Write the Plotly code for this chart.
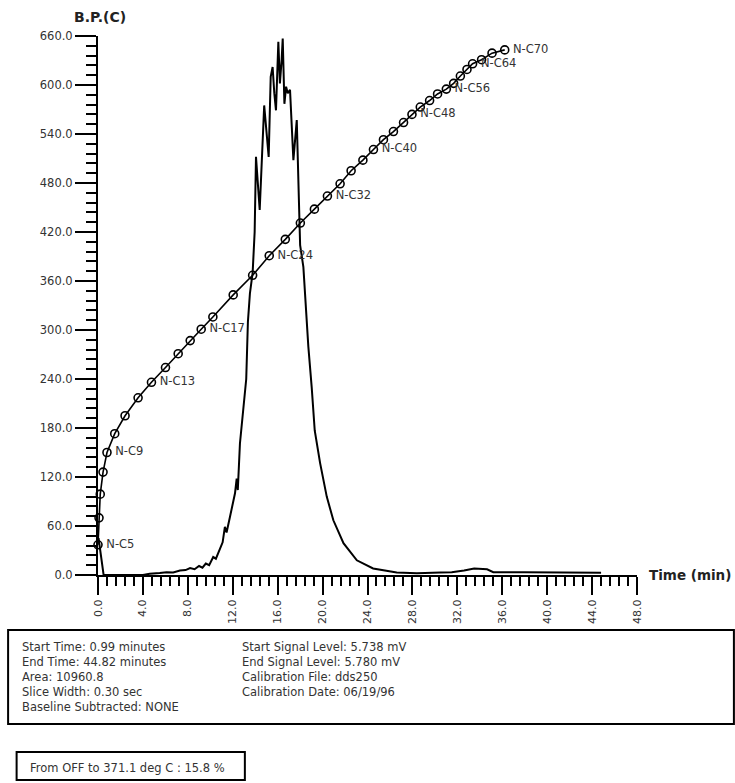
import plotly.graph_objects as go

# ---------------- data ----------------
# Calibration curve: n-alkane carbon number, retention time (min), boiling point (C)
carbon_numbers = [5, 6, 7, 8, 9, 10, 11, 12, 13, 14, 15, 16, 17, 18,
                  20, 22, 24, 26, 28, 30, 32, 34, 36, 38, 40, 42, 44, 46,
                  48, 50, 52, 54, 56, 58, 60, 62, 64, 66, 68, 70]
cal_time = [0.0, 0.09, 0.2, 0.45, 0.8, 1.49, 2.41, 3.57, 4.76, 6.01, 7.14, 8.21, 9.19, 10.23,
            12.04, 13.77, 15.25, 16.68, 18.02, 19.27, 20.43, 21.56, 22.54, 23.59, 24.53, 25.42,
            26.31, 27.21, 27.96, 28.70, 29.53, 30.24, 31.02, 31.67, 32.27, 32.86, 33.36, 34.16,
            35.09, 36.22]
cal_bp = [37, 70, 99, 126, 150, 173, 195, 217, 236, 254, 271, 287, 301, 316,
          343, 367, 391, 411, 431, 448, 464, 479, 495, 508, 521, 533, 543, 554,
          564, 573, 581, 589, 595, 602, 611, 619, 626, 631, 639, 643]
labelled_carbons = [5, 9, 13, 17, 24, 32, 40, 48, 56, 64, 70]

# Chromatogram signal (time in min, response drawn on the same vertical scale)
sig_time = [0.05, 0.5, 4.0, 4.6, 5.5, 6.1, 6.7, 7.3, 7.8, 8.2, 8.6, 9.0, 9.3, 9.6, 9.9,
            10.26, 10.5, 10.86, 11.1, 11.3, 11.45, 11.75, 12.0, 12.2, 12.35, 12.45, 12.64,
            12.8, 12.95, 13.09, 13.2, 13.35, 13.53, 13.77, 13.95, 14.07, 14.2, 14.4, 14.8,
            15.0, 15.2, 15.38, 15.55, 15.7, 15.85, 16.06, 16.2, 16.35, 16.45, 16.6, 16.75,
            16.9, 17.1, 17.4, 17.7, 17.93, 18.0, 18.29, 18.73, 19.03, 19.3, 19.78, 20.37,
            20.96, 21.86, 23.05, 24.5, 26.6, 28.4, 30.5, 31.5, 32.6, 33.5, 34.65, 35.2,
            38.0, 41.2, 44.8]
sig_value = [45, 0, 0, 1.5, 2.5, 3.5, 3, 5.5, 6, 8.5, 7, 11, 9, 14, 12,
             22, 20, 33, 40, 59, 52, 71, 85, 100, 118, 104, 161,
             186, 200, 222, 240, 310, 345, 370, 420, 512, 490, 447, 575,
             540, 512, 610, 622, 590, 569, 653, 602, 630, 657, 577, 598,
             590, 594, 508, 557, 439, 404, 377, 280, 230, 177, 137, 96,
             67, 39, 18, 8, 3, 2, 3, 3.5, 5.5, 8, 7, 3.5,
             3.5, 3.5, 2.8]

x_ticks = [0, 4, 8, 12, 16, 20, 24, 28, 32, 36, 40, 44, 48]
y_ticks = [0, 60, 120, 180, 240, 300, 360, 420, 480, 540, 600, 660]

info_left = ["Start Time: 0.99 minutes", "End Time: 44.82 minutes", "Area: 10960.8",
             "Slice Width: 0.30 sec", "Baseline Subtracted: NONE"]
info_right = ["Start Signal Level: 5.738 mV", "End Signal Level: 5.780 mV",
              "Calibration File: dds250", "Calibration Date: 06/19/96"]
summary_text = "From OFF to 371.1 deg C : 15.8 %"

# ---------------- figure ----------------
W, H = 735, 783
L, R, T, B = 98.3, 98.3, 36, 208
pw, ph = W - L - R, H - T - B

def px(x):
    return (x - L) / pw

def py(y):
    return (H - B - y) / ph

FONT = "DejaVu Sans"
TXT = "#333333"

fig = go.Figure()

fig.add_trace(go.Scatter(
    x=sig_time, y=sig_value, mode="lines",
    line=dict(color="black", width=2),
    hoverinfo="skip", showlegend=False))

cal_text = ["\u2009N-C%d" % c if c in labelled_carbons else "" for c in carbon_numbers]
fig.add_trace(go.Scatter(
    x=cal_time, y=cal_bp, mode="lines+markers+text",
    line=dict(color="black", width=1.6),
    marker=dict(symbol="circle-open", size=8, color="black", line=dict(width=1.6)),
    text=cal_text, textposition="middle right",
    textfont=dict(family=FONT, size=11.5, color=TXT),
    cliponaxis=False, showlegend=False))

fig.update_xaxes(
    range=[0, 48], tickvals=x_ticks, ticktext=["%.1f" % v for v in x_ticks],
    tickangle=-90, ticks="outside", ticklen=18, tickwidth=2, tickcolor="black",
    showline=True, linewidth=2, linecolor="black", showgrid=False, zeroline=False,
    tickfont=dict(family=FONT, size=11, color=TXT),
    minor=dict(dtick=0.8, tick0=0, ticks="outside", ticklen=9, tickwidth=2,
               tickcolor="black", showgrid=False))
fig.update_yaxes(
    range=[0, 660], tickvals=y_ticks, ticktext=["%.1f" % v for v in y_ticks],
    ticks="outside", ticklen=21, tickwidth=2, tickcolor="black",
    showline=True, linewidth=2, linecolor="black", showgrid=False, zeroline=False,
    tickfont=dict(family=FONT, size=11.5, color=TXT),
    minor=dict(dtick=12, tick0=0, ticks="outside", ticklen=10, tickwidth=2,
               tickcolor="black", showgrid=False))

ann = []
ann.append(dict(text="<b>B.P.(C)</b>", x=px(100), y=py(16.5), xref="paper", yref="paper",
                xanchor="center", yanchor="middle", showarrow=False,
                font=dict(family=FONT, size=14, color="#222")))
ann.append(dict(text="<b>Time (min)</b>", x=px(733), y=py(575), xref="paper", yref="paper",
                xanchor="right", yanchor="middle", showarrow=False,
                font=dict(family=FONT, size=13.5, color="#222")))
for i, t in enumerate(info_left):
    ann.append(dict(text=t, x=px(20.5), y=py(647 + 15 * i), xref="paper", yref="paper",
                    xanchor="left", yanchor="middle", showarrow=False,
                    font=dict(family=FONT, size=11.5, color=TXT)))
for i, t in enumerate(info_right):
    ann.append(dict(text=t, x=px(240), y=py(647 + 15 * i), xref="paper", yref="paper",
                    xanchor="left", yanchor="middle", showarrow=False,
                    font=dict(family=FONT, size=11.5, color=TXT)))
ann.append(dict(text=summary_text, x=px(28), y=py(768), xref="paper", yref="paper",
                xanchor="left", yanchor="middle", showarrow=False,
                font=dict(family=FONT, size=11.5, color=TXT)))

shapes = [
    dict(type="rect", xref="paper", yref="paper", x0=px(8.5), x1=px(733.5),
         y0=py(724), y1=py(630), line=dict(color="black", width=2), fillcolor="rgba(0,0,0,0)"),
    dict(type="rect", xref="paper", yref="paper", x0=px(17), x1=px(245),
         y0=py(780), y1=py(752), line=dict(color="black", width=2), fillcolor="rgba(0,0,0,0)"),
]

fig.update_layout(
    width=W, height=H, autosize=False,
    margin=dict(l=L, r=R, t=T, b=B, pad=0),
    paper_bgcolor="white", plot_bgcolor="white",
    font=dict(family=FONT, color=TXT),
    annotations=ann, shapes=shapes, showlegend=False)

fig.write_html("out.html")
